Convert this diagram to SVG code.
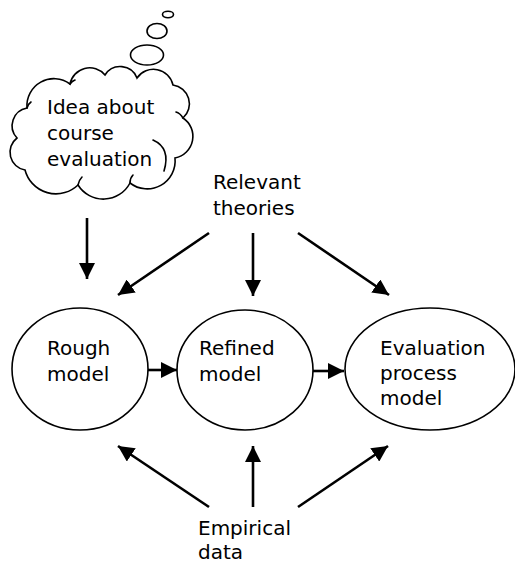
<svg xmlns="http://www.w3.org/2000/svg" width="515" height="563" viewBox="0 0 515 563">
<style>
  text { font-family: "DejaVu Sans", Verdana, sans-serif; font-size: 20px; fill: #000; }
  .shape { fill: #fff; stroke: #000; stroke-width: 1.6; }
  .hook { fill: none; stroke: #000; stroke-width: 1.6; stroke-linecap: round; }
  .arrow { fill: none; stroke: #000; stroke-width: 2.6; marker-end: url(#head); }
</style>
<defs>
  <marker id="head" markerUnits="userSpaceOnUse" markerWidth="18" markerHeight="16" refX="16" refY="8" orient="auto">
    <path d="M0,0 L16,8 L0,16 Z" fill="#000"/>
  </marker>
</defs>
<rect width="515" height="563" fill="#fff"/>
<g id="idea">
  <ellipse class="shape" cx="168" cy="14.5" rx="5.5" ry="3.2"/>
  <ellipse class="shape" cx="157" cy="31" rx="10" ry="7.5"/>
  <ellipse class="shape" cx="147" cy="55" rx="16.5" ry="10"/>
  <path class="shape" d="M27,108 A27,27 0 0 1 70,84 A20,20 0 0 1 105,75 A18,18 0 0 1 137,78 A20,20 0 0 1 173,85 A19,19 0 0 1 183,118 A22,22 0 0 1 175,158 A28,28 0 0 1 130,183 A30,30 0 0 1 78,185 A32,32 0 0 1 25,170 A18,18 0 0 1 17,138 A18,18 0 0 1 27,108 Z"/>
  <path class="hook" d="M183,118 Q180,113 176,112 M153,140 Q171,148 164,171 M130,183 Q130,178 133,175 M78,185 Q79,180 82,177 M27,108 Q28,104 31,102 M70,84 Q72,81 75,80"/>
  <text x="47" y="114">Idea about</text>
  <text x="47" y="140">course</text>
  <text x="47" y="166">evaluation</text>
</g>
<g id="theories">
  <text x="213" y="189">Relevant</text>
  <text x="213" y="215">theories</text>
</g>
<g id="rough">
  <ellipse class="shape" cx="80" cy="369" rx="68" ry="61"/>
  <text x="47" y="355">Rough</text>
  <text x="47" y="381">model</text>
</g>
<g id="refined">
  <ellipse class="shape" cx="245" cy="370" rx="68" ry="60"/>
  <text x="199" y="355">Refined</text>
  <text x="199" y="381">model</text>
</g>
<g id="evaluation">
  <ellipse class="shape" cx="430" cy="369" rx="85" ry="61"/>
  <text x="380" y="355">Evaluation</text>
  <text x="380" y="380">process</text>
  <text x="380" y="405">model</text>
</g>
<g id="empirical">
  <text x="198" y="535">Empirical</text>
  <text x="198" y="559">data</text>
</g>
<g id="connectors">
  <line class="arrow" x1="87" y1="218" x2="87" y2="279"/>
  <line class="arrow" x1="209" y1="233" x2="118" y2="295"/>
  <line class="arrow" x1="253" y1="233" x2="253" y2="296"/>
  <line class="arrow" x1="298" y1="233" x2="389" y2="295"/>
  <line class="arrow" x1="148" y1="370" x2="177" y2="370"/>
  <line class="arrow" x1="313" y1="371" x2="344" y2="371"/>
  <line class="arrow" x1="209" y1="507" x2="118" y2="446"/>
  <line class="arrow" x1="253" y1="507" x2="253" y2="446"/>
  <line class="arrow" x1="298" y1="507" x2="388" y2="446"/>
</g>
</svg>
